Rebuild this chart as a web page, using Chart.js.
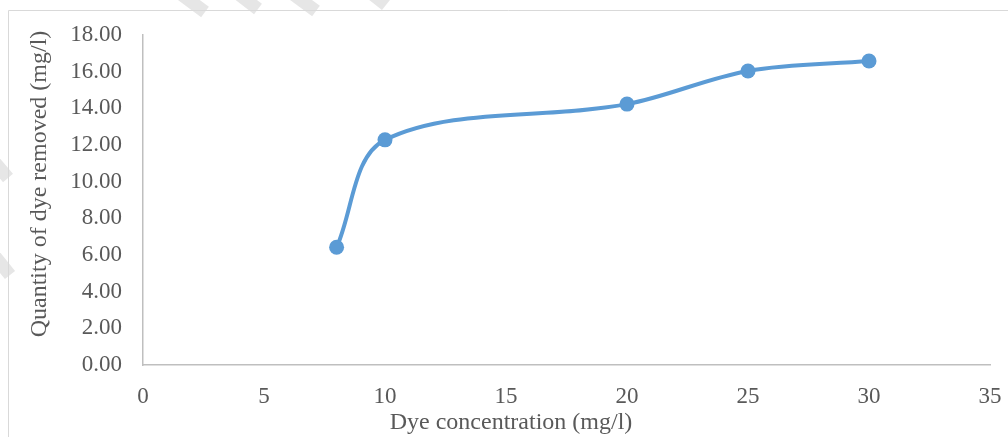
<!DOCTYPE html>
<html>
<head>
<meta charset="utf-8">
<script src="https://cdn.jsdelivr.net/npm/chart.js@4/dist/chart.umd.min.js"></script>
<style>
  html, body { margin: 0; padding: 0; background: #ffffff; }
  #wrap { width: 1008px; height: 437px; position: relative; }
</style>
</head>
<body>
<div id="wrap"><canvas id="chart"></canvas></div>
<script>
// Dye concentration (mg/l) and quantity of dye removed (mg/l)
const concentrations = [8, 10, 20, 25, 30];
const dyeRemoved = [6.42, 12.28, 14.23, 16.04, 16.58];

const xTicks = [0, 5, 10, 15, 20, 25, 30, 35];
const yTicks = [0, 2, 4, 6, 8, 10, 12, 14, 16, 18];

const xTitle = 'Dye concentration (mg/l)';
const yTitle = 'Quantity of dye removed (mg/l)';

const FONT = '"Liberation Serif", "Times New Roman", serif';
const TEXT = '#595959';
const AXIS = '#bfbfbf';
const SERIES = '#5b9bd5';

// Frame, faint background stripes and axis titles
const decorations = {
  id: 'decorations',
  beforeDraw(chart) {
    const ctx = chart.ctx;
    ctx.save();
    // faint diagonal stripes in the upper-left corner
    ctx.strokeStyle = '#e6e6e6';
    ctx.lineWidth = 13;
    ctx.lineCap = 'butt';
    const stripes = [
      [170, -14, 205, 12], [228, -14, 258, 9], [282, -14, 316, 11], [362, -14, 386, 5],
      [-20, 145, 8, 178], [-20, 238, 10, 275]
    ];
    stripes.forEach(s => {
      ctx.beginPath();
      ctx.moveTo(s[0], s[1]);
      ctx.lineTo(s[2], s[3]);
      ctx.stroke();
    });
    // outer frame
    ctx.strokeStyle = '#d9d9d9';
    ctx.lineWidth = 1;
    ctx.beginPath();
    ctx.moveTo(8.5, 440);
    ctx.lineTo(8.5, 10.5);
    ctx.lineTo(1010, 10.5);
    ctx.stroke();
    ctx.restore();
  },
  afterDraw(chart) {
    const ctx = chart.ctx;
    ctx.save();
    ctx.fillStyle = TEXT;
    ctx.font = '24px ' + FONT;
    ctx.textAlign = 'center';
    ctx.textBaseline = 'middle';
    ctx.fillText(xTitle, 511, 423);
    ctx.translate(40, 184);
    ctx.rotate(-Math.PI / 2);
    ctx.fillText(yTitle, 0, 0);
    ctx.restore();
  }
};

new Chart(document.getElementById('chart'), {
  type: 'scatter',
  data: {
    datasets: [{
      data: concentrations.map((x, i) => ({ x: x, y: dyeRemoved[i] })),
      showLine: true,
      borderColor: SERIES,
      backgroundColor: SERIES,
      borderWidth: 4,
      tension: 0.34,
      pointRadius: 7.5,
      pointHoverRadius: 7.5,
      pointBorderWidth: 0,
      clip: false
    }]
  },
  options: {
    responsive: true,
    maintainAspectRatio: false,
    animation: false,
    events: [],
    layout: { padding: { left: 0, right: 18, top: 35, bottom: 0 } },
    plugins: { legend: { display: false }, tooltip: { enabled: false } },
    scales: {
      x: {
        type: 'linear',
        min: 0, max: 35,
        afterBuildTicks(scale) { scale.ticks = xTicks.map(v => ({ value: v })); },
        afterFit(scale) {
          scale.height = 72;
          scale.paddingLeft = 0;
          scale.paddingRight = 0;
        },
        grid: { display: false, drawTicks: false },
        border: { display: true, color: AXIS, width: 1.5 },
        ticks: {
          color: TEXT,
          font: { family: FONT, size: 23 },
          padding: 18,
          maxRotation: 0,
          autoSkip: false,
          callback: v => String(v)
        }
      },
      y: {
        type: 'linear',
        min: 0, max: 18,
        afterBuildTicks(scale) { scale.ticks = yTicks.map(v => ({ value: v })); },
        afterFit(scale) {
          scale.width = 143;
          scale.paddingTop = 0;
          scale.paddingBottom = 0;
        },
        grid: { display: false, drawTicks: false },
        border: { display: true, color: AXIS, width: 1.5 },
        ticks: {
          color: TEXT,
          font: { family: FONT, size: 23 },
          padding: 21,
          autoSkip: false,
          callback: v => v.toFixed(2)
        }
      }
    }
  },
  plugins: [decorations]
});
</script>
</body>
</html>
